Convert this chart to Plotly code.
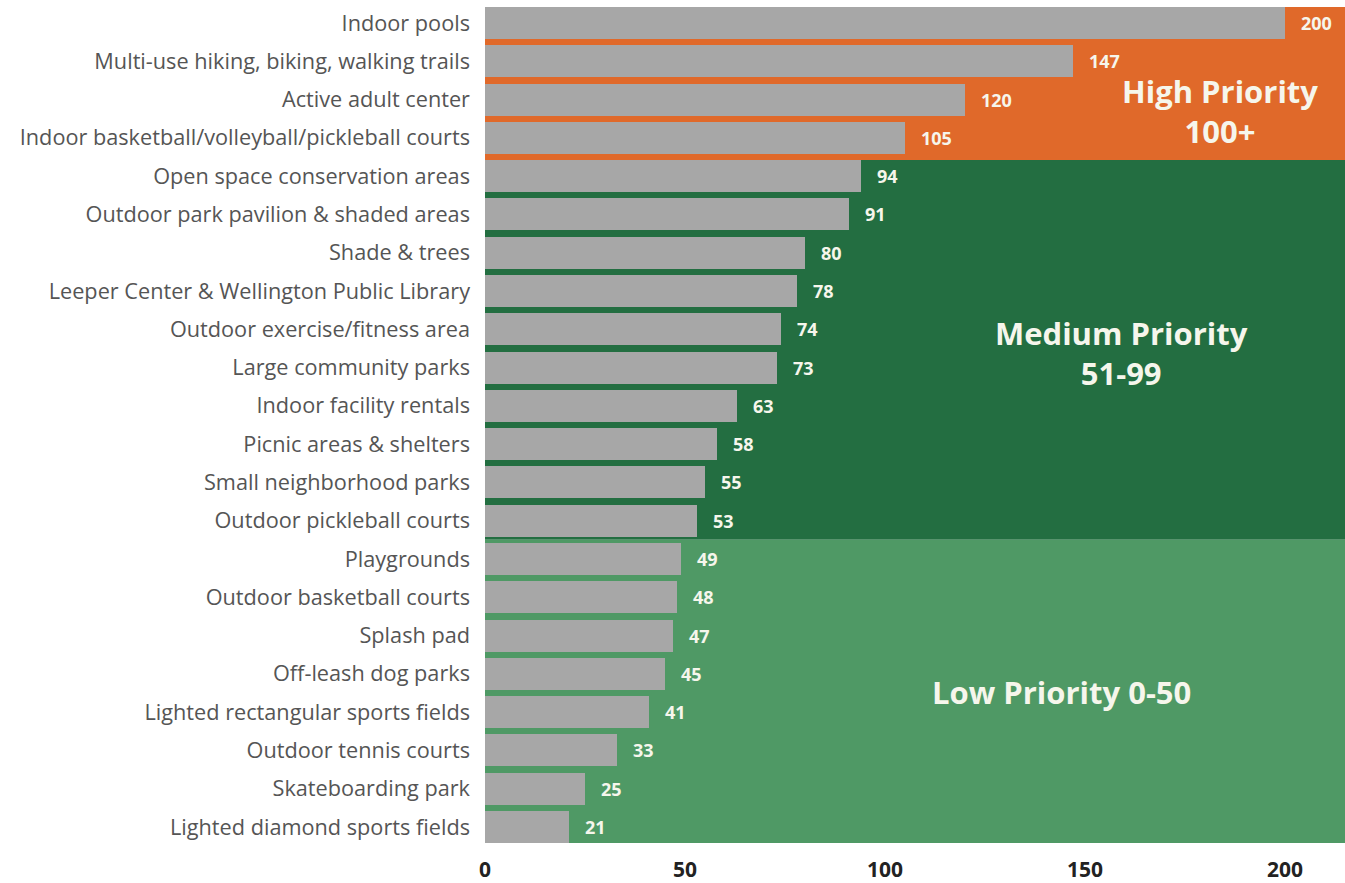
import plotly.graph_objects as go

# Amenity demand scores, highest first
amenities = [
    "Indoor pools",
    "Multi-use hiking, biking, walking trails",
    "Active adult center",
    "Indoor basketball/volleyball/pickleball courts",
    "Open space conservation areas",
    "Outdoor park pavilion & shaded areas",
    "Shade & trees",
    "Leeper Center & Wellington Public Library",
    "Outdoor exercise/fitness area",
    "Large community parks",
    "Indoor facility rentals",
    "Picnic areas & shelters",
    "Small neighborhood parks",
    "Outdoor pickleball courts",
    "Playgrounds",
    "Outdoor basketball courts",
    "Splash pad",
    "Off-leash dog parks",
    "Lighted rectangular sports fields",
    "Outdoor tennis courts",
    "Skateboarding park",
    "Lighted diamond sports fields",
]
scores = [200, 147, 120, 105, 94, 91, 80, 78, 74, 73, 63, 58, 55, 53,
          49, 48, 47, 45, 41, 33, 25, 21]

x_ticks = [0, 50, 100, 150, 200]

ORANGE = "#E0692A"
DARK_GREEN = "#236E41"
LIGHT_GREEN = "#4F9965"
BAR_GRAY = "#A7A7A7"
TEXT_LIGHT = "#F6F6EC"

BAR_W = 0.835
rows = list(range(len(amenities)))

fig = go.Figure()
fig.add_trace(go.Bar(
    x=scores,
    y=rows,
    orientation="h",
    width=BAR_W,
    marker=dict(color=BAR_GRAY, line=dict(width=0)),
    hoverinfo="x+text",
    hovertext=amenities,
    showlegend=False,
))

# Value labels just past each bar end
for r, v in zip(rows, scores):
    fig.add_annotation(
        x=v, y=r, text=f"<b>{v}</b>", showarrow=False,
        xanchor="left", yanchor="middle", xshift=14,
        font=dict(family="Open Sans", size=18, color=TEXT_LIGHT),
    )

# Priority bands behind the bars
top = -BAR_W / 2
bottom = len(amenities) - 1 + BAR_W / 2
bands = [
    (top, 3.58, ORANGE),
    (3.58, 13.5, DARK_GREEN),
    (13.5, bottom, LIGHT_GREEN),
]
for y0, y1, col in bands:
    fig.add_shape(
        type="rect", xref="paper", yref="y", x0=0, x1=1, y0=y0, y1=y1,
        fillcolor=col, line=dict(width=0), layer="below",
    )

# Band titles: (x in data units, row position, text)
band_labels = [
    (183.8, 2.3, "<b>High Priority<br>100+</b>"),
    (159.0, 8.62, "<b>Medium Priority<br>51-99</b>"),
    (144.0, 17.47, "<b>Low Priority 0-50</b>"),
]
for xv, yv, txt in band_labels:
    fig.add_annotation(
        x=xv, y=yv, text=txt, showarrow=False,
        xanchor="center", yanchor="middle", align="center",
        font=dict(family="Open Sans", size=31, color=TEXT_LIGHT),
    )

fig.update_layout(
    width=1345, height=883,
    margin=dict(l=485, r=0, t=7, b=40),
    paper_bgcolor="white",
    plot_bgcolor="white",
    bargap=0,
    font=dict(family="Open Sans"),
)
fig.update_xaxes(
    range=[0, 215], tickvals=x_ticks,
    ticktext=[f"<b>{t}</b>" for t in x_ticks],
    tickfont=dict(family="Open Sans", size=21, color="#222222"),
    showgrid=False, zeroline=False, showline=False, ticks="",
    ticklabelstandoff=12,
)
fig.update_yaxes(
    range=[bottom, top], tickvals=rows, ticktext=amenities,
    tickfont=dict(family="Open Sans", size=21.7, color="#555555"),
    showgrid=False, zeroline=False, showline=False, ticks="",
    ticklabelstandoff=14,
)

fig.write_html("out.html")
